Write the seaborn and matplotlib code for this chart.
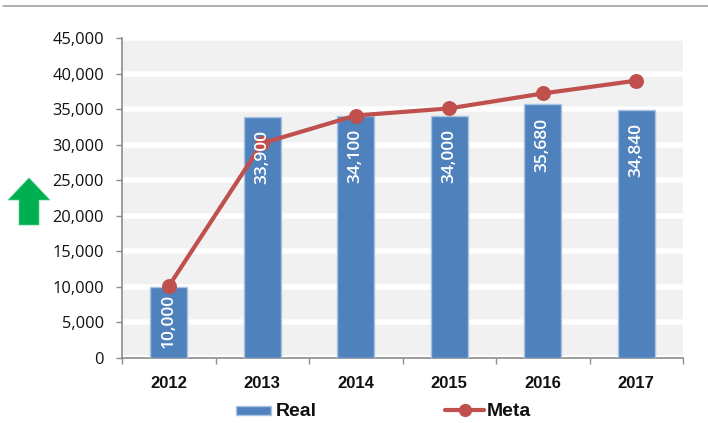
import matplotlib
matplotlib.use("Agg")
import matplotlib.pyplot as plt
from matplotlib.patches import Polygon
from matplotlib.lines import Line2D
import seaborn as sns

years = ["2012", "2013", "2014", "2015", "2016", "2017"]
real = [10000, 33900, 34100, 34000, 35680, 34840]
meta = [10100, 30200, 34100, 35100, 37200, 39000]
real_labels = ["10,000", "33,900", "34,100", "34,000", "35,680", "34,840"]
y_ticks = [0, 5000, 10000, 15000, 20000, 25000, 30000, 35000, 40000, 45000]

BLUE = "#4F81BD"
RED = "#C0504D"
W, H = 708, 423

sns.set_theme(style="white")
plt.rcParams["font.family"] = ["Open Sans", "DejaVu Sans"]

fig = plt.figure(figsize=(W / 100, H / 100), dpi=100)
ax = fig.add_axes([122 / W, 1 - 358 / H, (683 - 122) / W, (358 - 38) / H])
ax.set_facecolor("#F1F1F1")

sns.barplot(x=years, y=real, ax=ax, color=BLUE, saturation=1, width=0.4,
            edgecolor="#A9C3E3", linewidth=1, zorder=3, label="Real")
sns.pointplot(x=years, y=meta, ax=ax, color=RED, markers="o", markersize=8.5,
              linewidth=3, zorder=4, label="Meta")

ax.set_xlim(-0.5, 5.5)
ax.set_ylim(0, 45000)
ax.set_yticks(y_ticks)
ax.set_yticklabels([f"{v:,}" for v in y_ticks], fontsize=11.8, color="#111111")
ax.grid(False)
ax.yaxis.grid(True, color="white", linewidth=4, zorder=1)
ax.set_axisbelow(True)
ax.set_xlabel("")
ax.set_ylabel("")

for s in ("top", "right"):
    ax.spines[s].set_visible(False)
for s in ("left", "bottom"):
    ax.spines[s].set_color("#8C8C8C")
    ax.spines[s].set_linewidth(1.2)

ax.tick_params(axis="y", left=True, length=4, width=1, color="#8C8C8C", pad=9)
ax.set_xticks([i - 0.5 for i in range(7)], minor=True)
ax.tick_params(axis="x", which="minor", bottom=True, length=4, width=1, color="#8C8C8C")
ax.tick_params(axis="x", which="major", bottom=False, pad=7)
for t in ax.get_xticklabels():
    t.set_fontfamily("Liberation Sans")
    t.set_fontweight("bold")
    t.set_fontsize(12)
    t.set_color("#111111")

for i, (v, lab) in enumerate(zip(real, real_labels)):
    offset = -5 if v < 20000 else -9.5
    ax.annotate(lab, xy=(i, v), xytext=(0, offset), textcoords="offset points",
                rotation=90, ha="center", va="top", color="white",
                fontsize=12.5, fontweight="semibold", zorder=6)

# Legend
fig.add_artist(Polygon([[236 / W, 1 - 406 / H], [271 / W, 1 - 406 / H],
                        [271 / W, 1 - 415 / H], [236 / W, 1 - 415 / H]],
                       closed=True, transform=fig.transFigure,
                       facecolor=BLUE, edgecolor="#A9C3E3", linewidth=1))
fig.text(276 / W, 1 - 411 / H, "Real", family="Liberation Sans", fontweight="bold",
         fontsize=14, va="center", color="#111111")
fig.add_artist(Line2D([445 / W, 484 / W], [1 - 410 / H, 1 - 410 / H],
                      transform=fig.transFigure, color=RED, linewidth=3))
fig.add_artist(Line2D([464.5 / W], [1 - 410 / H], transform=fig.transFigure,
                      color=RED, marker="o", markersize=8.5, linestyle="none"))
fig.text(487 / W, 1 - 411 / H, "Meta", family="Liberation Sans", fontweight="bold",
         fontsize=14, va="center", color="#111111")

# Top rule
fig.add_artist(Line2D([3 / W, 1], [1 - 6.5 / H, 1 - 6.5 / H], transform=fig.transFigure,
                      color="#A3A3A3", linewidth=1.2))

# Green arrow
pts = [(29, 178), (50, 200), (39, 200), (39, 225), (19, 225), (19, 200), (8, 200)]
fig.add_artist(Polygon([(x / W, 1 - y / H) for x, y in pts], closed=True,
                       transform=fig.transFigure, facecolor="#00B050",
                       edgecolor="#5FD08F", linewidth=0.5))

leg = ax.get_legend()
if leg:
    leg.remove()

fig.savefig("out.png", dpi=100)
